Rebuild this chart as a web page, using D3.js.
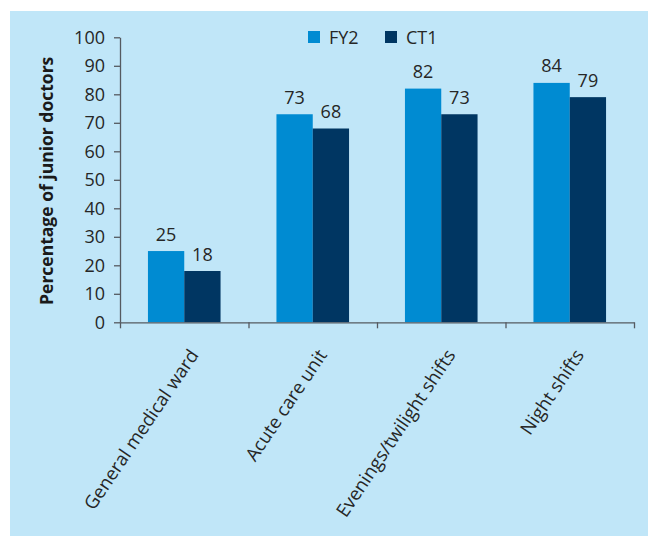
<!DOCTYPE html>
<html>
<head>
<meta charset="utf-8">
<script src="https://cdn.jsdelivr.net/npm/d3@7"></script>
<style>
  body { margin: 0; background: #fff; }
  svg { display: block; font-family: "Open Sans", Lato, sans-serif; }
  .axis path, .axis line { stroke: #555a60; stroke-width: 1.3; }
  .axis text { fill: #262626; font-size: 18px; font-family: "Open Sans", sans-serif; }
</style>
</head>
<body>
<svg id="chart"></svg>
<script>
// data
var categories = ["General medical ward", "Acute care unit", "Evenings/twilight shifts", "Night shifts"];
var seriesNames = ["FY2", "CT1"];
var fy2 = [25, 73, 82, 84];
var ct1 = [18, 68, 73, 79];
var yTicks = [0, 10, 20, 30, 40, 50, 60, 70, 80, 90, 100];

var colors = { FY2: "#008bd2", CT1: "#003662" };

var width = 648, height = 536;
var plotLeft = 120, plotRight = 634, plotTop = 37.3, plotBottom = 322.3;

var svg = d3.select("#chart")
    .attr("width", width)
    .attr("height", height);

// panel background
svg.append("rect")
    .attr("x", 10).attr("y", 11)
    .attr("width", width - 10).attr("height", height - 11)
    .attr("fill", "#c0e6f8");

var y = d3.scaleLinear().domain([0, 100]).range([plotBottom, plotTop]);

var x = d3.scaleBand()
    .domain(categories)
    .range([plotLeft, plotRight])
    .padding(0);

var xs = d3.scaleBand()
    .domain(seriesNames)
    .range([0, x.bandwidth()])
    .paddingInner(0)
    .paddingOuter(0.77);

var rows = categories.map(function (c, i) {
    return { cat: c, values: [{ s: "FY2", v: fy2[i] }, { s: "CT1", v: ct1[i] }] };
});

var groups = svg.selectAll(".group")
    .data(rows)
    .enter()
    .append("g")
    .classed("group", true)
    .attr("transform", d => "translate(" + x(d.cat) + ",0)");

groups.selectAll("rect")
    .data(d => d.values)
    .enter()
    .append("rect")
    .attr("x", d => xs(d.s))
    .attr("y", d => y(d.v))
    .attr("width", xs.bandwidth())
    .attr("height", d => y(0) - y(d.v))
    .attr("fill", d => colors[d.s]);

groups.selectAll("text")
    .data(d => d.values)
    .enter()
    .append("text")
    .attr("x", d => xs(d.s) + xs.bandwidth() / 2)
    .attr("y", d => y(d.v) - 10.5)
    .attr("text-anchor", "middle")
    .attr("fill", "#262626")
    .style("font-size", "18px")
    .text(d => d.v);

// y axis
svg.append("g")
    .classed("axis", true)
    .attr("transform", "translate(" + plotLeft + ",0)")
    .call(d3.axisLeft(y).tickValues(yTicks).tickSize(6).tickSizeOuter(0).tickPadding(9));

// x axis, ticks at category boundaries
var xEdge = d3.scaleLinear().domain([0, categories.length]).range([plotLeft, plotRight]);
svg.append("g")
    .classed("axis", true)
    .attr("transform", "translate(0," + plotBottom + ")")
    .call(d3.axisBottom(xEdge).tickValues(d3.range(0, categories.length + 1))
        .tickSize(6).tickSizeOuter(0).tickFormat(""));

// rotated category labels
svg.selectAll(".xlabel")
    .data(categories)
    .enter()
    .append("text")
    .classed("xlabel", true)
    .attr("transform", d => "translate(" + (x(d) + x.bandwidth() / 2 + 15) + ",355) rotate(-56)")
    .attr("text-anchor", "end")
    .attr("fill", "#262626")
    .style("font-size", "18.5px")
    .text(d => d);

// y axis title
svg.append("text")
    .attr("transform", "translate(47," + ((plotTop + plotBottom) / 2 + 1) + ") rotate(-90)")
    .attr("dy", "0.35em")
    .attr("text-anchor", "middle")
    .attr("fill", "#1a1a1a")
    .style("font-size", "17.5px")
    .style("font-weight", "bold")
    .text("Percentage of junior doctors");

// legend
var legend = svg.selectAll(".legend")
    .data(seriesNames)
    .enter()
    .append("g")
    .classed("legend", true)
    .attr("transform", (d, i) => "translate(" + (308 + i * 77) + ",31)");

legend.append("rect")
    .attr("width", 12).attr("height", 12)
    .attr("fill", d => colors[d]);

legend.append("text")
    .attr("x", 21).attr("y", 12.5)
    .attr("fill", "#262626")
    .style("font-size", "18px")
    .text(d => d);
</script>
</body>
</html>
